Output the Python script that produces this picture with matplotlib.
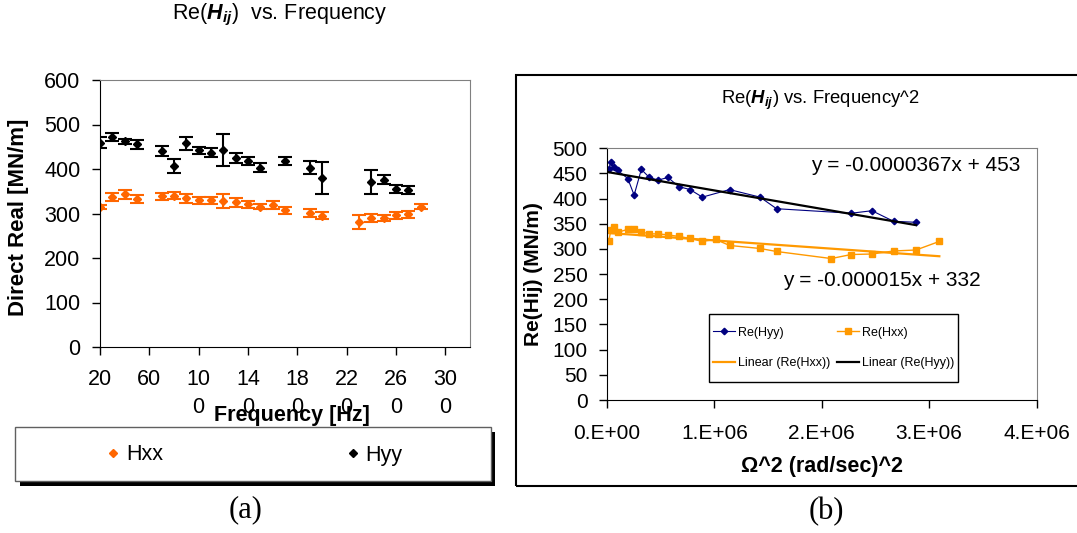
import matplotlib.pyplot as plt
import numpy as np
from matplotlib.patches import Rectangle
from matplotlib.lines import Line2D

plt.rcParams['font.family'] = ['Liberation Sans', 'DejaVu Sans']
plt.rcParams['mathtext.fontset'] = 'custom'
plt.rcParams['mathtext.rm'] = 'Liberation Sans'
plt.rcParams['mathtext.bfit'] = 'Liberation Sans:italic:bold'

# data
hyy_freq = [20, 30, 40, 50, 70, 80, 90, 100, 110, 120, 130, 140, 150, 170, 190, 200, 240, 250, 260, 270]
hyy = [459, 472, 462, 456, 440, 407, 458, 442, 437, 442, 424, 418, 403, 418, 403, 380, 371, 376, 355, 353]
hyy_err = [12, 9, 5, 10, 11, 16, 15, 8, 11, 36, 11, 9, 10, 8, 14, 36, 27, 10, 9, 9]

hxx_freq = [20, 30, 40, 50, 70, 80, 90, 100, 110, 120, 130, 140, 150, 160, 170, 190, 200, 230, 240, 250, 260, 270, 280]
hxx = [315, 337, 343, 333, 339, 340, 334, 330, 330, 328, 325, 321, 315, 319, 307, 301, 295, 281, 289, 290, 296, 298, 315]
hxx_err = [4, 10, 10, 9, 8, 8, 10, 8, 8, 15, 10, 8, 6, 8, 8, 8, 8, 15, 9, 6, 8, 8, 6]

# trendline coefficients as printed on the chart (slope, intercept)
fit_hyy = (-0.0000367, 453)
fit_hxx = (-0.000015, 332)

left_xticks = [20, 60, 100, 140, 180, 220, 260, 300]
left_xlabels = ['20', '60', '10\n0', '14\n0', '18\n0', '22\n0', '26\n0', '30\n0']
right_xticks = [0, 1e6, 2e6, 3e6, 4e6]
right_xlabels = ['0.E+00', '1.E+06', '2.E+06', '3.E+06', '4.E+06']

W, H = 1077, 533
def fbox(l, t, r, b):
    return [l / W, 1 - b / H, (r - l) / W, (b - t) / H]

fig = plt.figure(figsize=(W / 100, H / 100), dpi=100)

# ---------- (a) ----------
ax1 = fig.add_axes(fbox(100, 80, 470, 347))
ax1.errorbar(hxx_freq, hxx, yerr=hxx_err, fmt='D', color='#FF6600', ms=3.8,
             capsize=4.8, elinewidth=1.5, capthick=1.5)
ax1.errorbar(hyy_freq, hyy, yerr=hyy_err, fmt='D', color='black', ms=3.8,
             capsize=4.8, elinewidth=1.5, capthick=1.5)
ax1.set_xlim(20, 320)
ax1.set_ylim(0, 600)
ax1.set_yticks(range(0, 601, 100))
ax1.set_xticks(left_xticks)
ax1.set_xticklabels(left_xlabels, linespacing=1.4)
ax1.tick_params(axis='both', direction='out', length=6, width=1, labelsize=15.5)
ax1.tick_params(axis='x', pad=10)
ax1.tick_params(axis='y', pad=8)
for s in ['top', 'right']:
    ax1.spines[s].set_color('#808080')
ax1.set_xlabel('Frequency [Hz]', fontsize=15.5, fontweight='bold', va='center')
ax1.xaxis.set_label_coords(0.518, -0.255)
ax1.set_ylabel('Direct Real [MN/m]', fontsize=16, fontweight='bold', va='center')
ax1.yaxis.set_label_coords(-0.221, 0.485)
fig.text(280 / W, 1 - 15 / H, r'Re($\mathbfit{H}_{\mathbfit{ij}}$)  vs. Frequency',
         fontsize=15.5, ha='center', va='center')

# legend box with shadow
fig.patches.append(Rectangle((20 / W, 1 - 485.5 / H), 474.5 / W, 54 / H,
                             transform=fig.transFigure, facecolor='black', edgecolor='none'))
fig.patches.append(Rectangle((15 / W, 1 - 481 / H), 476 / W, 54 / H,
                             transform=fig.transFigure, facecolor='white', edgecolor='#606060', lw=1))
h1 = [Line2D([], [], marker='D', ls='none', color='#FF6600', ms=3.8),
      Line2D([], [], marker='D', ls='none', color='black', ms=3.8)]
fig.legend(h1, ['Hxx', 'Hyy'], loc='center left', bbox_to_anchor=(107 / W, 1 - 455 / H),
           ncol=2, frameon=False, fontsize=15.5, handlelength=0.6, handletextpad=0.3,
           columnspacing=8.5, borderpad=0, borderaxespad=0)
fig.text(246 / W, 1 - 510 / H, '(a)', fontsize=22, family='Liberation Serif',
         ha='center', va='center')

# ---------- (b) ----------
fig.patches.append(Rectangle((516 / W, 1 - 486 / H), 570 / W, 411 / H,
                             transform=fig.transFigure, facecolor='none', edgecolor='black', lw=1.5))
ax2 = fig.add_axes(fbox(607, 148.3, 1036.5, 400))
w_hyy = (2 * np.pi * np.array(hyy_freq)) ** 2
w_hxx = (2 * np.pi * np.array(hxx_freq)) ** 2
l_hyy, = ax2.plot(w_hyy, hyy, '-D', color='#000080', ms=3.3, lw=0.8)
l_hxx, = ax2.plot(w_hxx, hxx, '-s', color='#FF9900', ms=4.5, lw=1)
xr = np.array([w_hxx.min(), w_hxx.max()])
t_hxx, = ax2.plot(xr, fit_hxx[0] * xr + fit_hxx[1], color='#FF9900', lw=1.6)
xr = np.array([w_hyy.min(), w_hyy.max()])
t_hyy, = ax2.plot(xr, fit_hyy[0] * xr + fit_hyy[1], color='black', lw=1.6)
ax2.set_xlim(0, 4e6)
ax2.set_ylim(0, 500)
ax2.set_yticks(range(0, 501, 50))
ax2.set_xticks(right_xticks)
ax2.set_xticklabels(right_xlabels)
ax2.tick_params(axis='both', direction='out', length=6, width=1, labelsize=15)
ax2.tick_params(axis='x', pad=11)
ax2.tick_params(axis='y', pad=8)
for s in ['top', 'right']:
    ax2.spines[s].set_color('#808080')
ax2.set_xlabel('\u03a9^2 (rad/sec)^2', fontsize=15.5, fontweight='bold', va='center')
ax2.xaxis.set_label_coords(0.5, -0.266)
ax2.set_ylabel('Re(Hij) (MN/m)', fontsize=15, fontweight='bold', va='center')
ax2.yaxis.set_label_coords(-0.170, 0.5)
fig.text(820 / W, 1 - 100 / H, r'Re($\mathbfit{H}_{\mathbfit{ij}}$) vs. Frequency^2',
         fontsize=13.3, ha='center', va='center')
fig.text(915.5 / W, 1 - 165 / H, 'y = -0.0000367x + 453', fontsize=15, ha='center', va='center')
fig.text(882 / W, 1 - 280 / H, 'y = -0.000015x + 332', fontsize=15, ha='center', va='center')

fig.patches.append(Rectangle((709 / W, 1 - 382 / H), 249 / W, 68 / H,
                             transform=fig.transFigure, facecolor='white', edgecolor='black', lw=1))
fig.legend([l_hyy, t_hxx, l_hxx, t_hyy],
           ['Re(Hyy)', 'Linear (Re(Hxx))', 'Re(Hxx)', 'Linear (Re(Hyy))'],
           loc='center', bbox_to_anchor=(833.5 / W, 1 - 348 / H), ncol=2, frameon=False,
           fontsize=9, handlelength=1.76, handletextpad=0.25, columnspacing=0.56,
           labelspacing=1.5, borderpad=0, borderaxespad=0)
fig.text(826 / W, 1 - 512 / H, '(b)', fontsize=22, family='Liberation Serif',
         ha='center', va='center')

fig.savefig('out.png', dpi=100)
